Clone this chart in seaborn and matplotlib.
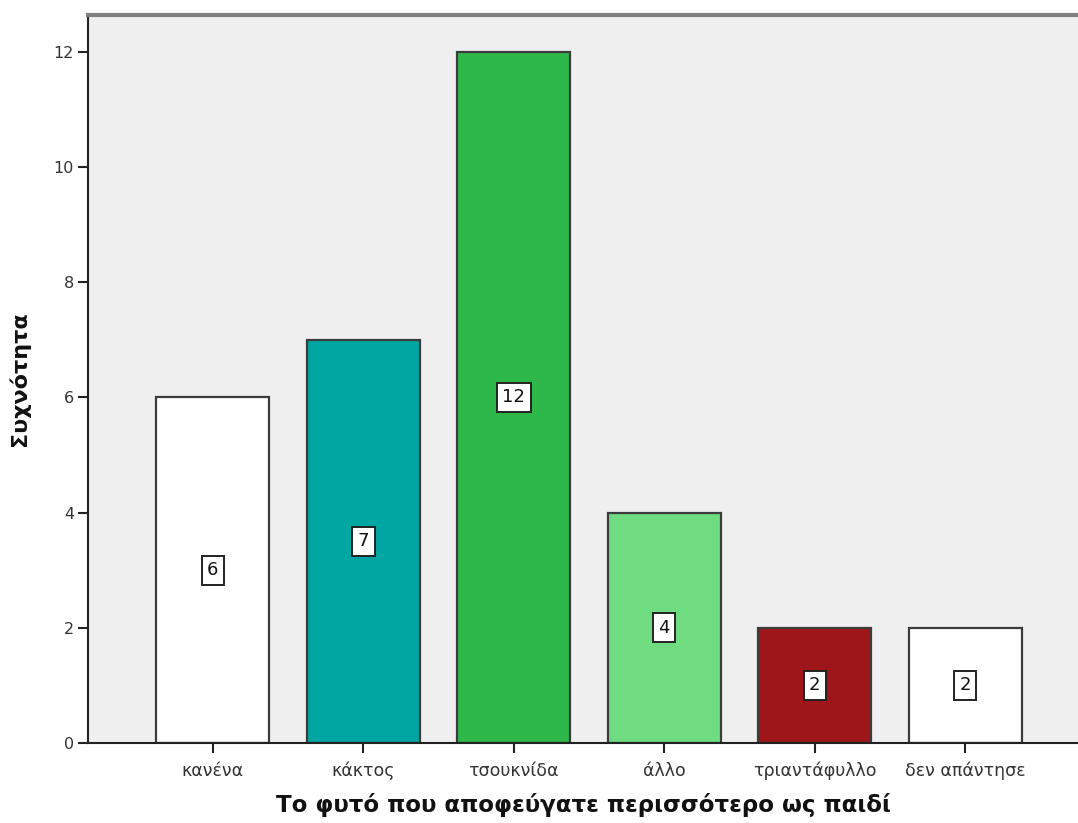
import matplotlib
matplotlib.use("Agg")
import matplotlib.pyplot as plt
import seaborn as sns
import pandas as pd

categories = ["κανένα", "κάκτος", "τσουκνίδα", "άλλο", "τριαντάφυλλο", "δεν απάντησε"]
counts = [6, 7, 12, 4, 2, 2]
bar_colors = ["#ffffff", "#00a6a1", "#2fb84a", "#6fdc82", "#9e151a", "#ffffff"]
y_ticks = [0, 2, 4, 6, 8, 10, 12]

sns.set_style("white")
plt.rcParams["font.family"] = ["DejaVu Sans"]

df = pd.DataFrame({"plant": categories, "freq": counts})

fig = plt.figure(figsize=(10.78, 8.23), dpi=100)
ax = fig.add_axes([88 / 1078, 80 / 823, 990 / 1078, 728 / 823])
ax.set_facecolor("#efefef")

sns.barplot(data=df, x="plant", y="freq", hue="plant", palette=bar_colors,
            legend=False, width=0.75, edgecolor="#3c3c3c", linewidth=1.6,
            saturation=1, ax=ax)

# value labels in small boxes at mid-height
for i, v in enumerate(counts):
    ax.text(i, v / 2, str(v), ha="center", va="center", fontsize=13, color="#111111",
            bbox=dict(boxstyle="square,pad=0.3", facecolor="white", edgecolor="#222222", linewidth=1.4))

ax.set_xlim(-0.83, 5.75)
ax.set_ylim(0, 12.64)
ax.set_yticks(y_ticks)
ax.tick_params(axis="both", direction="out", length=7, width=1.5, color="#222222",
               labelsize=11.5, labelcolor="#333333", pad=3, left=True, bottom=True)
ax.tick_params(axis="x", labelsize=12.5, pad=17)
for lab in ax.get_xticklabels():
    lab.set_verticalalignment("baseline")

for s in ["left", "bottom"]:
    ax.spines[s].set_color("#222222")
    ax.spines[s].set_linewidth(1.5)
ax.spines["right"].set_visible(False)
ax.spines["top"].set_color("#808080")
ax.spines["top"].set_linewidth(3)

ax.set_xlabel("Το φυτό που αποφεύγατε περισσότερο ως παιδί", fontsize=16.5, fontweight="bold",
              color="#111111", labelpad=9)
ax.set_ylabel("Συχνότητα", fontsize=16, fontweight="bold", color="#111111", labelpad=17)

fig.savefig("out.png", dpi=100, facecolor="white")
